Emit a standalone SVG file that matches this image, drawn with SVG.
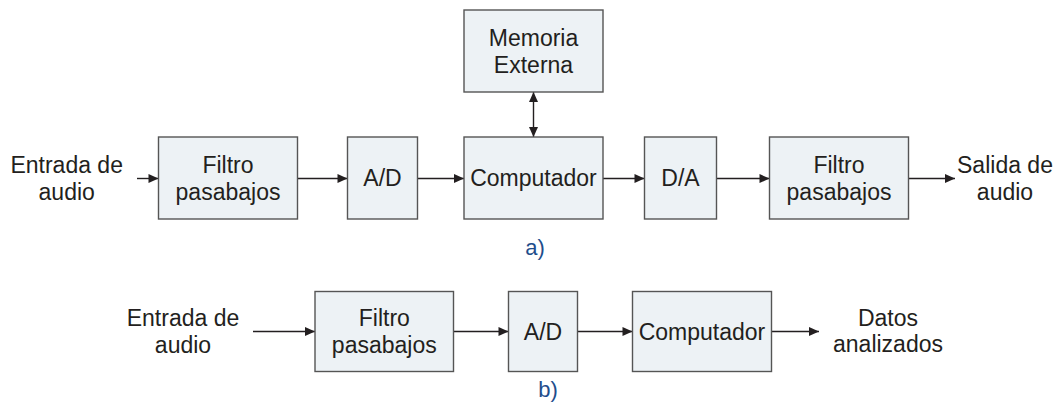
<svg xmlns="http://www.w3.org/2000/svg" width="1058" height="409" viewBox="0 0 1058 409">
<style>
.box{fill:#edf2f5;stroke:#555;stroke-width:1.4}
.t{font-family:"Liberation Sans",Arial,sans-serif;font-size:23px;fill:#231f20;text-anchor:middle}
.lab{font-family:"Liberation Sans",Arial,sans-serif;font-size:22px;fill:#1f4e8c;text-anchor:middle}
.c{stroke:#231f20;stroke-width:1.4;fill:none}
</style>
<defs>
<marker id="ah" markerUnits="userSpaceOnUse" markerWidth="12" markerHeight="12" viewBox="0 0 12 12" refX="11" refY="6" orient="auto-start-reverse">
<path d="M1,1.5 L11,6 L1,10.5 Z" fill="#231f20"/>
</marker>
</defs>
<rect width="1058" height="409" fill="#fff"/>
<g id="connectors">
<line class="c" x1="137" y1="178.5" x2="158.5" y2="178.5" marker-end="url(#ah)"/>
<line class="c" x1="297.5" y1="178.5" x2="347.5" y2="178.5" marker-end="url(#ah)"/>
<line class="c" x1="417.5" y1="178.5" x2="464" y2="178.5" marker-end="url(#ah)"/>
<line class="c" x1="603" y1="178.5" x2="644.5" y2="178.5" marker-end="url(#ah)"/>
<line class="c" x1="716.5" y1="178.5" x2="769.5" y2="178.5" marker-end="url(#ah)"/>
<line class="c" x1="908.5" y1="178.5" x2="955" y2="178.5" marker-end="url(#ah)"/>
<line class="c" x1="533.5" y1="92" x2="533.5" y2="137" marker-start="url(#ah)" marker-end="url(#ah)"/>
<line class="c" x1="253" y1="331.5" x2="315" y2="331.5" marker-end="url(#ah)"/>
<line class="c" x1="453.5" y1="331.5" x2="508.5" y2="331.5" marker-end="url(#ah)"/>
<line class="c" x1="577.5" y1="331.5" x2="632.5" y2="331.5" marker-end="url(#ah)"/>
<line class="c" x1="771.5" y1="331.5" x2="819" y2="331.5" marker-end="url(#ah)"/>
</g>
<g id="in-a"><text class="t" x="66.7" y="172.5">Entrada de</text><text class="t" x="66.7" y="200">audio</text></g>
<g id="filtro-a1"><rect class="box" x="158.5" y="137" width="139" height="82"/><text class="t" x="228" y="172.5">Filtro</text><text class="t" x="228" y="200">pasabajos</text></g>
<g id="ad-a"><rect class="box" x="347.5" y="137" width="70" height="82"/><text class="t" x="382.5" y="186">A/D</text></g>
<g id="memoria"><rect class="box" x="464" y="10" width="139" height="82"/><text class="t" x="533.5" y="45.5">Memoria</text><text class="t" x="533.5" y="72.5">Externa</text></g>
<g id="comp-a"><rect class="box" x="464" y="137" width="139" height="82"/><text class="t" x="533.5" y="186">Computador</text></g>
<g id="da-a"><rect class="box" x="644.5" y="137" width="72" height="82"/><text class="t" x="680.5" y="186">D/A</text></g>
<g id="filtro-a2"><rect class="box" x="769.5" y="137" width="139" height="82"/><text class="t" x="839" y="172.5">Filtro</text><text class="t" x="839" y="200">pasabajos</text></g>
<g id="out-a"><text class="t" x="1005" y="172.5">Salida de</text><text class="t" x="1005" y="200">audio</text></g>
<text class="lab" x="535" y="255">a)</text>
<g id="in-b"><text class="t" x="183" y="325.5">Entrada de</text><text class="t" x="183" y="353">audio</text></g>
<g id="filtro-b"><rect class="box" x="315" y="291.5" width="138.5" height="80"/><text class="t" x="384.3" y="325.5">Filtro</text><text class="t" x="384.3" y="353">pasabajos</text></g>
<g id="ad-b"><rect class="box" x="508.5" y="291.5" width="69" height="80"/><text class="t" x="543" y="339.5">A/D</text></g>
<g id="comp-b"><rect class="box" x="632.5" y="291.5" width="139" height="80"/><text class="t" x="702" y="339.5">Computador</text></g>
<g id="out-b"><text class="t" x="888" y="325.5">Datos</text><text class="t" x="888" y="352">analizados</text></g>
<text class="lab" x="548" y="397">b)</text>
</svg>
